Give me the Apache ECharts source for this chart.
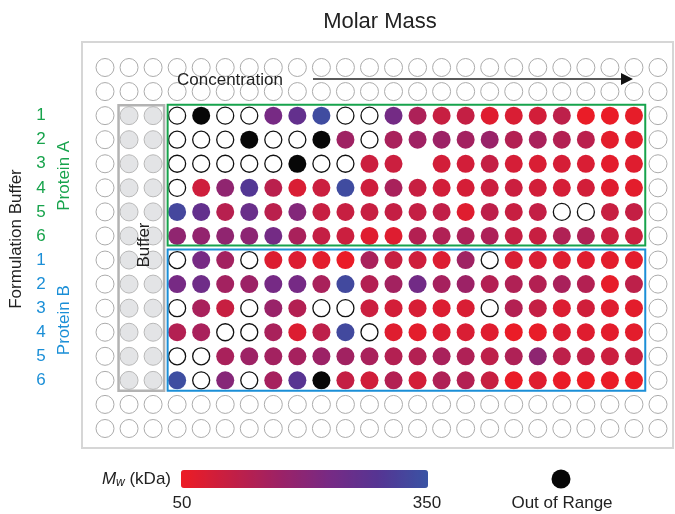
<!DOCTYPE html>
<html><head><meta charset="utf-8">
<script src="https://cdn.jsdelivr.net/npm/echarts@6/dist/echarts.min.js"></script>
<style>html,body{margin:0;padding:0;background:#fff}#c{width:675px;height:514px}</style>
</head><body><div id="c"></div>
<script>
// Codes: O = measured well with no result (open circle), X = out of range, G = no well
const O = null, X = 'OOR', G = '-';
const formulations = ['1','2','3','4','5','6'];
const proteinA = [
 [O,X,O,O,230,265,335,O,O,235,145,105,110,70,80,90,120,55,55,60],
 [O,O,O,X,O,O,X,165,O,150,165,170,160,175,135,150,135,125,65,65],
 [O,O,O,O,O,X,O,O,100,100,G,90,90,110,85,80,85,80,65,70],
 [O,95,190,295,125,80,100,335,95,150,105,90,85,100,100,90,85,90,70,65],
 [325,265,130,255,125,210,105,105,105,110,110,115,70,120,105,112,O,O,105,110],
 [190,185,190,195,235,150,110,100,70,72,135,140,145,145,110,105,140,140,100,100]
];
const proteinB = [
 [O,230,160,O,75,75,65,55,150,105,95,75,165,O,80,80,70,70,65,65],
 [230,245,160,170,232,232,150,330,135,160,238,155,170,135,140,135,150,135,60,120],
 [O,150,105,O,175,135,O,O,100,88,82,75,80,O,135,110,75,92,70,65],
 [135,150,O,O,150,75,120,330,O,70,65,75,80,70,55,58,75,70,65,65],
 [O,O,150,168,160,155,170,162,150,135,135,150,142,120,142,192,120,115,100,105],
 [340,O,205,O,155,285,X,110,92,135,88,142,135,105,55,70,55,52,55,52]
];
const mwRange = [50, 350];
const colorStops = ['#ed1c24','#c41f44','#9c2266','#772a84','#553593','#3953a4'];

const NCOL = 24, NROW = 16;
const empty = [], buffer = [], vals = [], open = [], oor = [];
const isData = (c, r) => c >= 3 && c <= 22 && r >= 2 && r <= 13;
for (let r = 0; r < NROW; r++) for (let c = 0; c < NCOL; c++) {
  if (isData(c, r)) continue;
  if ((c === 1 || c === 2) && r >= 2 && r <= 13) buffer.push([c, r]);
  else empty.push([c, r]);
}
function addBlock(block, r0) {
  block.forEach((row, ri) => row.forEach((v, ci) => {
    const p = [ci + 3, ri + r0];
    if (v === G) return;
    if (v === O) open.push(p);
    else if (v === X) oor.push(p);
    else vals.push([p[0], p[1], v]);
  }));
}
addBlock(proteinA, 2);
addBlock(proteinB, 8);

const chart = echarts.init(document.getElementById('c'));
const SZ = 18;
chart.setOption({
  animation: false,
  grid: {left: 105, right: 17, top: 67.5, bottom: 85.5},
  xAxis: {type: 'value', min: 0, max: NCOL - 1, show: false},
  yAxis: {type: 'value', min: 0, max: NROW - 1, inverse: true, show: false},
  visualMap: {
    type: 'continuous', min: mwRange[0], max: mwRange[1], seriesIndex: 2, dimension: 2,
    orient: 'horizontal', left: 181, top: 470, itemWidth: 18, itemHeight: 247,
    padding: 0, calculable: false, text: null, inRange: {color: colorStops}, hoverLink: false
  },
  series: [
    {type: 'scatter', data: empty, symbolSize: SZ, silent: true,
     itemStyle: {color: '#fff', borderColor: '#ababab', borderWidth: 1, opacity: 1}},
    {type: 'scatter', data: buffer, symbolSize: SZ, silent: true,
     itemStyle: {color: '#e3e4e6', borderColor: '#b8b8b8', borderWidth: 1, opacity: 1}},
    {type: 'scatter', data: vals, symbolSize: SZ, silent: true, itemStyle: {opacity: 1}},
    {type: 'scatter', data: open, symbolSize: SZ - 1, silent: true,
     itemStyle: {color: '#fff', borderColor: '#111', borderWidth: 1.3, opacity: 1}},
    {type: 'scatter', data: oor, symbolSize: SZ, silent: true,
     itemStyle: {color: '#070707', opacity: 1}}
  ]
});

const px = (c, r) => chart.convertToPixel({gridIndex: 0}, [c, r]);
const GREEN = '#17a34c', BLUE = '#1b8fd7', TXT = '#222';
function rectBox(x0, y0, x1, y1, color, w) {
  return {type: 'rect', shape: {x: x0, y: y0, width: x1 - x0, height: y1 - y0},
    style: {fill: null, stroke: color, lineWidth: w}, silent: true, z: 10};
}
const b1 = px(1, 2), b2 = px(2, 13), a1 = px(3, 2), a2 = px(22, 7), bb1 = px(3, 8), bb2 = px(22, 13);
const g = [];
g.push({type: 'rect', shape: {x: 82, y: 42, width: 591, height: 406},
  style: {fill: null, stroke: '#d6d6d6', lineWidth: 2}, silent: true});
g.push(rectBox(b1[0] - 10.5, b1[1] - 10.5, b2[0] + 11, b2[1] + 10.5, '#b3b3b3', 2.5));
g.push(rectBox(a1[0] - 9.5, a1[1] - 11, a2[0] + 11.3, a2[1] + 9.5, GREEN, 2));
g.push(rectBox(bb1[0] - 9.5, bb1[1] - 10.5, bb2[0] + 11.3, bb2[1] + 10.5, BLUE, 2));
// title
g.push({type: 'text', x: 380, y: 22, style: {text: 'Molar Mass', font: '22px "Liberation Sans", Arial, sans-serif', fill: TXT, align: 'center', verticalAlign: 'middle'}});
// concentration arrow
const ay = 79;
g.push({type: 'text', x: 177, y: ay + 1, z: 12, style: {text: 'Concentration', font: '17px "Liberation Sans", Arial, sans-serif', fill: TXT, align: 'left', verticalAlign: 'middle'}});
g.push({type: 'line', shape: {x1: 313, y1: ay, x2: 624, y2: ay}, style: {stroke: TXT, lineWidth: 1.5}, z: 12});
g.push({type: 'polygon', shape: {points: [[621, ay - 6], [633, ay], [621, ay + 6]]}, style: {fill: '#111'}, z: 12});
// Buffer label
g.push({type: 'text', x: 144, y: 245, rotation: Math.PI / 2, z: 12, style: {text: 'Buffer', font: '17px "Liberation Sans", Arial, sans-serif', fill: TXT, align: 'center', verticalAlign: 'middle'}});
// left labels
g.push({type: 'text', x: 16, y: 239, rotation: Math.PI / 2, style: {text: 'Formulation Buffer', font: '17px "Liberation Sans", Arial, sans-serif', fill: TXT, align: 'center', verticalAlign: 'middle'}});
formulations.forEach((t, i) => {
  const pa = px(0, 2 + i), pb = px(0, 8 + i);
  g.push({type: 'text', x: 41, y: pa[1], style: {text: t, font: '17px "Liberation Sans", Arial, sans-serif', fill: GREEN, align: 'center', verticalAlign: 'middle'}});
  g.push({type: 'text', x: 41, y: pb[1], style: {text: t, font: '17px "Liberation Sans", Arial, sans-serif', fill: BLUE, align: 'center', verticalAlign: 'middle'}});
});
const ca = (px(0, 2)[1] + px(0, 7)[1]) / 2, cb = (px(0, 8)[1] + px(0, 13)[1]) / 2;
g.push({type: 'text', x: 64, y: ca, rotation: Math.PI / 2, style: {text: 'Protein A', font: '17px "Liberation Sans", Arial, sans-serif', fill: GREEN, align: 'center', verticalAlign: 'middle'}});
g.push({type: 'text', x: 64, y: cb, rotation: Math.PI / 2, style: {text: 'Protein B', font: '17px "Liberation Sans", Arial, sans-serif', fill: BLUE, align: 'center', verticalAlign: 'middle'}});
// legend labels
g.push({type: 'text', x: 171, y: 479, style: {text: '{m|M}{w|w}{n| (kDa)}', align: 'right', verticalAlign: 'middle',
  rich: {m: {font: 'italic 17px "Liberation Sans", Arial, sans-serif', fill: TXT},
         w: {font: 'italic 12px "Liberation Sans", Arial, sans-serif', fill: TXT, padding: [8, 0, 0, 0]},
         n: {font: '17px "Liberation Sans", Arial, sans-serif', fill: TXT}}}});
g.push({type: 'text', x: 182, y: 503, style: {text: String(mwRange[0]), font: '17px "Liberation Sans", Arial, sans-serif', fill: TXT, align: 'center', verticalAlign: 'middle'}});
g.push({type: 'text', x: 427, y: 503, style: {text: String(mwRange[1]), font: '17px "Liberation Sans", Arial, sans-serif', fill: TXT, align: 'center', verticalAlign: 'middle'}});
g.push({type: 'circle', shape: {cx: 561, cy: 479, r: 9.5}, style: {fill: '#070707'}});
g.push({type: 'text', x: 562, y: 503, style: {text: 'Out of Range', font: '17px "Liberation Sans", Arial, sans-serif', fill: TXT, align: 'center', verticalAlign: 'middle'}});
chart.setOption({graphic: g});
</script></body></html>
